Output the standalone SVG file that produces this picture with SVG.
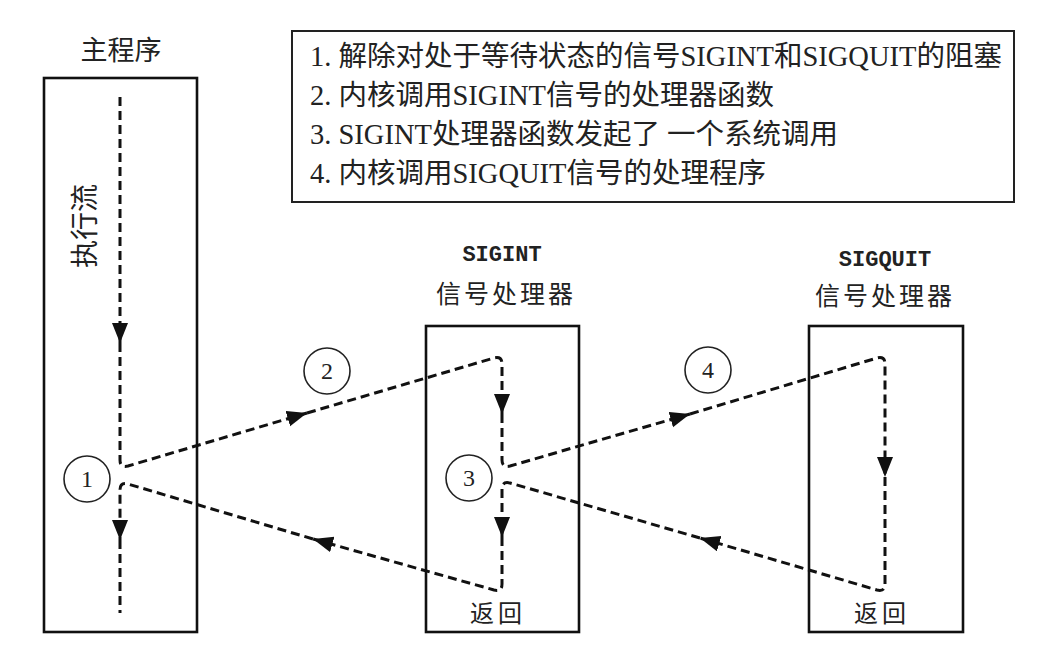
<svg xmlns="http://www.w3.org/2000/svg" width="1049" height="655" viewBox="0 0 1049 655">
<style>
.box{fill:#fff;stroke:#111;stroke-width:2.6}
.legend{fill:#fff;stroke:#222;stroke-width:2}
.flow{fill:none;stroke:#111;stroke-width:3;stroke-dasharray:9 5}
.circ{fill:#fff;stroke:#222;stroke-width:1.6}
.num{font-family:"Liberation Serif",serif;font-size:24px;fill:#222;text-anchor:middle}
.cjk{font-family:"Noto Sans CJK SC",sans-serif;fill:#222;text-anchor:middle}
.mono{font-family:"Liberation Mono",monospace;font-weight:bold;font-size:22px;fill:#222;text-anchor:middle}
.lg{font-family:"Liberation Serif","Noto Sans CJK SC",serif;font-size:28.5px;fill:#222}
</style>
<defs>
<marker id="ah" markerUnits="userSpaceOnUse" markerWidth="22" markerHeight="18" refX="20" refY="8" orient="auto">
<path d="M0,0 L20,8 L0,16 z" fill="#111"/>
</marker>
</defs>
<rect width="1049" height="655" fill="#fff"/>

<g id="legend">
<rect class="legend" x="292" y="31" width="722" height="171"/>
<text class="lg" x="310" y="66">1. 解除对处于等待状态的信号SIGINT和SIGQUIT的阻塞</text>
<text class="lg" x="310" y="105">2. 内核调用SIGINT信号的处理器函数</text>
<text class="lg" x="310" y="144">3. SIGINT处理器函数发起了 一个系统调用</text>
<text class="lg" x="310" y="183">4. 内核调用SIGQUIT信号的处理程序</text>
</g>

<g id="main">
<text class="cjk" x="121" y="60" font-size="27">主程序</text>
<rect class="box" x="44" y="78" width="153" height="554"/>
<text class="cjk" font-size="28" transform="translate(95,226) rotate(-90)">执行流</text>
</g>

<g id="sigint">
<text class="mono" x="502" y="261">SIGINT</text>
<text class="cjk" x="506" y="303" font-size="25" letter-spacing="3">信号处理器</text>
<rect class="box" x="426" y="326" width="153" height="306"/>
<text class="cjk" x="498" y="622" font-size="24" letter-spacing="4">返回</text>
</g>

<g id="sigquit">
<text class="mono" x="885" y="266">SIGQUIT</text>
<text class="cjk" x="885" y="305" font-size="25" letter-spacing="3">信号处理器</text>
<rect class="box" x="809" y="326" width="154" height="306"/>
<text class="cjk" x="882" y="622" font-size="24" letter-spacing="4">返回</text>
</g>

<g id="connectors">
<path class="flow" d="M120,97 V343" marker-end="url(#ah)"/>
<path class="flow" d="M120,343 V460 Q120,468 128,466 L307,413" marker-end="url(#ah)"/>
<path class="flow" d="M307,413 L494,358 Q502,356 502,364 V414" marker-end="url(#ah)"/>
<path class="flow" d="M502,414 V460 Q502,468 510,466 L690,414" marker-end="url(#ah)"/>
<path class="flow" d="M690,414 L877,358 Q885,356 885,364 V477" marker-end="url(#ah)"/>
<path class="flow" d="M885,477 V584 Q885,592 877,590 L700,538" marker-end="url(#ah)"/>
<path class="flow" d="M700,538 L510,483 Q502,481 502,489 V537" marker-end="url(#ah)"/>
<path class="flow" d="M502,537 V584 Q502,592 494,590 L313,539" marker-end="url(#ah)"/>
<path class="flow" d="M313,539 L128,484 Q120,482 120,490 V540" marker-end="url(#ah)"/>
<path class="flow" d="M120,540 V613"/>
</g>

<g id="step1"><circle class="circ" cx="87" cy="479" r="23"/><text class="num" x="87" y="487">1</text></g>
<g id="step2"><circle class="circ" cx="327" cy="371" r="23"/><text class="num" x="327" y="379">2</text></g>
<g id="step3"><circle class="circ" cx="469" cy="478" r="23"/><text class="num" x="469" y="486">3</text></g>
<g id="step4"><circle class="circ" cx="708" cy="370" r="23"/><text class="num" x="708" y="378">4</text></g>
</svg>
